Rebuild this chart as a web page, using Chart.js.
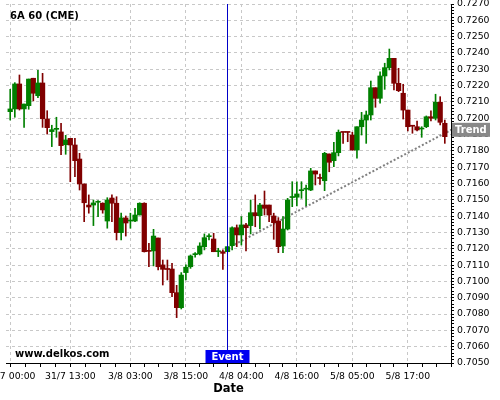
<!DOCTYPE html>
<html>
<head>
<meta charset="utf-8">
<script src="https://cdn.jsdelivr.net/npm/chart.js@4.4.0/dist/chart.umd.min.js"></script>
<style>
html,body{margin:0;padding:0;background:#fff;}
</style>
</head>
<body>
<canvas id="c" width="500" height="400"></canvas>
<script>
// 6A 60 min bars (CME), one entry per bar
const openP = [
  0.72040,0.72057,0.72210,0.72057,0.72077,0.72245,0.72138,0.72216,0.71995,0.71918,
  0.71932,0.71916,0.71838,0.71877,0.71836,0.71750,0.71597,0.71468,0.71468,0.71485,
  0.71479,0.71370,0.71511,0.71479,0.71299,0.71389,0.71370,0.71370,0.71407,0.71479,
  0.71187,0.71187,0.71266,0.71101,0.71074,0.71076,0.70931,0.70839,0.71054,0.71090,
  0.71164,0.71168,0.71213,0.71274,0.71260,0.71182,0.71182,0.71182,0.71219,0.71329,
  0.71285,0.71346,0.71342,0.71421,0.71403,0.71468,0.71468,0.71401,0.71370,0.71217,
  0.71321,0.71514,0.71516,0.71556,0.71565,0.71560,0.71677,0.71632,0.71617,0.71781,
  0.71740,0.71789,0.71914,0.71914,0.71897,0.71805,0.71948,0.71989,0.72020,0.72187,
  0.72122,0.72259,0.72310,0.72367,0.72214,0.72153,0.72050,0.71952,0.71948,0.71934,
  0.71948,0.72009,0.72000,0.72098,0.71969
];
const highP = [
  0.72177,0.72218,0.72265,0.72087,0.72240,0.72245,0.72294,0.72275,0.72046,0.71957,
  0.72006,0.71969,0.71895,0.71877,0.71877,0.71785,0.71597,0.71530,0.71499,0.71495,
  0.71482,0.71513,0.71530,0.71519,0.71418,0.71401,0.71418,0.71448,0.71482,0.71482,
  0.71234,0.71319,0.71266,0.71131,0.71131,0.71111,0.70976,0.71054,0.71101,0.71162,
  0.71176,0.71237,0.71291,0.71291,0.71295,0.71203,0.71193,0.71213,0.71335,0.71346,
  0.71397,0.71356,0.71499,0.71530,0.71479,0.71554,0.71468,0.71418,0.71391,0.71397,
  0.71509,0.71611,0.71611,0.71611,0.71591,0.71693,0.71677,0.71657,0.71791,0.71781,
  0.71853,0.71928,0.71914,0.71914,0.71914,0.71948,0.72036,0.72044,0.72228,0.72187,
  0.72285,0.72337,0.72424,0.72367,0.72306,0.72208,0.72050,0.71952,0.71983,0.71948,
  0.72014,0.72046,0.72147,0.72132,0.71989
];
const lowP = [
  0.71989,0.72006,0.72050,0.71944,0.72055,0.72106,0.72126,0.71944,0.71903,0.71826,
  0.71883,0.71777,0.71779,0.71611,0.71642,0.71560,0.71366,0.71418,0.71342,0.71397,
  0.71418,0.71326,0.71366,0.71254,0.71254,0.71278,0.71326,0.71366,0.71407,0.71180,
  0.71090,0.71095,0.71070,0.70978,0.71009,0.70907,0.70778,0.70831,0.71009,0.71080,
  0.71148,0.71162,0.71193,0.71254,0.71182,0.71152,0.71074,0.71182,0.71193,0.71213,
  0.71223,0.71187,0.71291,0.71335,0.71321,0.71407,0.71366,0.71258,0.71176,0.71176,
  0.71315,0.71458,0.71462,0.71509,0.71464,0.71556,0.71591,0.71595,0.71556,0.71672,
  0.71703,0.71769,0.71846,0.71856,0.71805,0.71755,0.71897,0.71846,0.71989,0.72067,
  0.72092,0.72177,0.72296,0.72173,0.72163,0.71995,0.71922,0.71908,0.71922,0.71883,
  0.71942,0.71983,0.71989,0.71959,0.71846
];
const closeP = [
  0.72057,0.72210,0.72057,0.72087,0.72240,0.72153,0.72216,0.71997,0.71942,0.71930,
  0.71934,0.71832,0.71867,0.71836,0.71740,0.71597,0.71482,0.71456,0.71481,0.71487,
  0.71438,0.71499,0.71479,0.71299,0.71389,0.71358,0.71372,0.71407,0.71479,0.71182,
  0.71184,0.71278,0.71090,0.71074,0.71073,0.70931,0.70839,0.71039,0.71087,0.71156,
  0.71165,0.71217,0.71268,0.71275,0.71182,0.71183,0.71172,0.71213,0.71329,0.71285,
  0.71346,0.71329,0.71421,0.71403,0.71468,0.71448,0.71407,0.71360,0.71213,0.71321,
  0.71499,0.71516,0.71536,0.71557,0.71566,0.71677,0.71658,0.71631,0.71785,0.71730,
  0.71789,0.71914,0.71913,0.71913,0.71805,0.71948,0.71989,0.72020,0.72187,0.72122,
  0.72259,0.72310,0.72367,0.72214,0.72169,0.72050,0.71948,0.71951,0.71928,0.71938,
  0.72009,0.72000,0.72098,0.71975,0.71887
];

// x axis labels and the bar they sit on
const tickLabels = ['31/7 00:00','31/7 13:00','3/8 03:00','3/8 15:00','4/8 04:00','4/8 16:00','5/8 05:00','5/8 17:00'];
const tickBars = [0, 13, 26, 38, 50, 62, 74, 86];

// event marker + trend line
const eventBar = 47;
const trendBars = [47, 95.4];
const trendVals = [0.71203, 0.71929];

const yMin = 0.7050, yMax = 0.7270;

const UP = '#008000', DOWN = '#800000';
const bars = openP.map((_, i) => i);
const candleCol = bars.map(i => closeP[i] >= openP[i] ? UP : DOWN);

// minor x ticks: 4 per label gap, then same step after the last label
const xTicks = [];
tickBars.forEach((b, k) => {
  const step = k < tickBars.length - 1 ? (tickBars[k+1] - b) / 4 : 3.125;
  for (let j = 0; j < 4; j++) xTicks.push(b + j*step);
});
const yTicks = [];
for (let k = 0; k <= 110; k++) yTicks.push(+(yMin + k*0.0002).toFixed(4));

const isMajorX = v => tickBars.includes(v);
const isMajorY = v => Math.abs(v*1000 - Math.round(v*1000)) < 1e-6;

Chart.defaults.font.family = '"DejaVu Sans", sans-serif';
Chart.defaults.color = '#000';

const overlay = {
  id: 'overlay',
  beforeDraw(chart){
    const c = chart.ctx;
    c.save(); c.fillStyle = '#fff'; c.fillRect(0, 0, chart.width, chart.height); c.restore();
  },
  afterDraw(chart){
    const {ctx, chartArea: a, scales: {x, y}} = chart;
    ctx.save();
    ctx.font = 'bold 10px "DejaVu Sans"';
    ctx.fillStyle = '#000';
    ctx.textAlign = 'left'; ctx.textBaseline = 'alphabetic';
    ctx.fillText('6A 60 (CME)', 10, 19);
    ctx.fillText('www.delkos.com', 15, 357);

    // event tag at the bottom
    const ex = Math.floor(x.getPixelForValue(eventBar)) + 0.5;
    ctx.fillStyle = '#0000f0';
    ctx.fillRect(ex - 22, a.bottom - 13, 44, 13);
    ctx.fillStyle = '#fff';
    ctx.textAlign = 'center'; ctx.textBaseline = 'middle';
    ctx.fillText('Event', ex, a.bottom - 6);

    // trend tag on the price axis
    const ty = y.getPixelForValue(trendVals[trendVals.length - 1]);
    ctx.fillStyle = '#888';
    ctx.fillRect(a.right + 1, ty - 7, 38, 14);
    ctx.fillStyle = '#fff';
    ctx.textAlign = 'left';
    ctx.fillText('Trend', a.right + 4, ty + 0.5);
    ctx.restore();
  }
};

new Chart(document.getElementById('c'), {
  type: 'bar',
  data: {
    datasets: [
      { type: 'line', data: [{x: eventBar, y: yMin}, {x: eventBar, y: yMax}],
        borderColor: '#0000c8', borderWidth: 1, pointRadius: 0, order: 0 },
      { data: bars.map(i => ({x: i, y: [openP[i], closeP[i]]})),
        backgroundColor: candleCol, barThickness: 4.6, minBarLength: 1, grouped: false, order: 1 },
      { data: bars.map(i => ({x: i, y: [lowP[i], highP[i]]})),
        backgroundColor: candleCol, barThickness: 1, grouped: false, order: 2 },
      { type: 'line', data: trendBars.map((b, k) => ({x: b, y: trendVals[k]})),
        borderColor: '#808080', borderWidth: 2, borderDash: [2, 2], pointRadius: 0, order: 3 }
    ]
  },
  options: {
    responsive: false, animation: false, devicePixelRatio: 1,
    layout: {padding: {left: 6, top: 4, right: 0, bottom: 0}},
    plugins: {legend: {display: false}, tooltip: {enabled: false}},
    scales: {
      x: {
        type: 'linear', min: -0.908, max: 95.34, offset: false,
        afterBuildTicks: s => { s.ticks = xTicks.map(v => ({value: v})); },
        afterFit: s => { s.height = 37; s.paddingLeft = 0; s.paddingRight = 0; },
        ticks: {autoSkip: false, maxRotation: 0, padding: 4, font: {size: 9.3},
          callback: v => { const k = tickBars.indexOf(v); return k < 0 ? '' : tickLabels[k]; }},
        grid: {offset: false, tickLength: 4, tickColor: '#000',
          color: c => c.tick && isMajorX(c.tick.value) ? '#c8c8c8' : 'rgba(0,0,0,0)'},
        border: {color: '#000', width: 1, dash: [3, 3]},
        title: {display: true, text: 'Date', font: {size: 11.5, weight: 'bold'}, padding: {top: 0, bottom: 4}}
      },
      y: {
        position: 'right', min: yMin, max: yMax,
        afterBuildTicks: s => { s.ticks = yTicks.map(v => ({value: v})); },
        afterFit: s => { s.width = 49; s.paddingTop = 0; s.paddingBottom = 0; },
        ticks: {autoSkip: false, padding: 3, font: {size: 9.3},
          callback: v => isMajorY(v) ? v.toFixed(4) : ''},
        grid: {tickLength: 3, tickColor: '#000',
          color: c => c.tick && isMajorY(c.tick.value) ? '#c8c8c8' : 'rgba(0,0,0,0)'},
        border: {color: '#000', width: 1, dash: [3, 3]}
      }
    }
  },
  plugins: [overlay]
});
</script>
</body>
</html>
